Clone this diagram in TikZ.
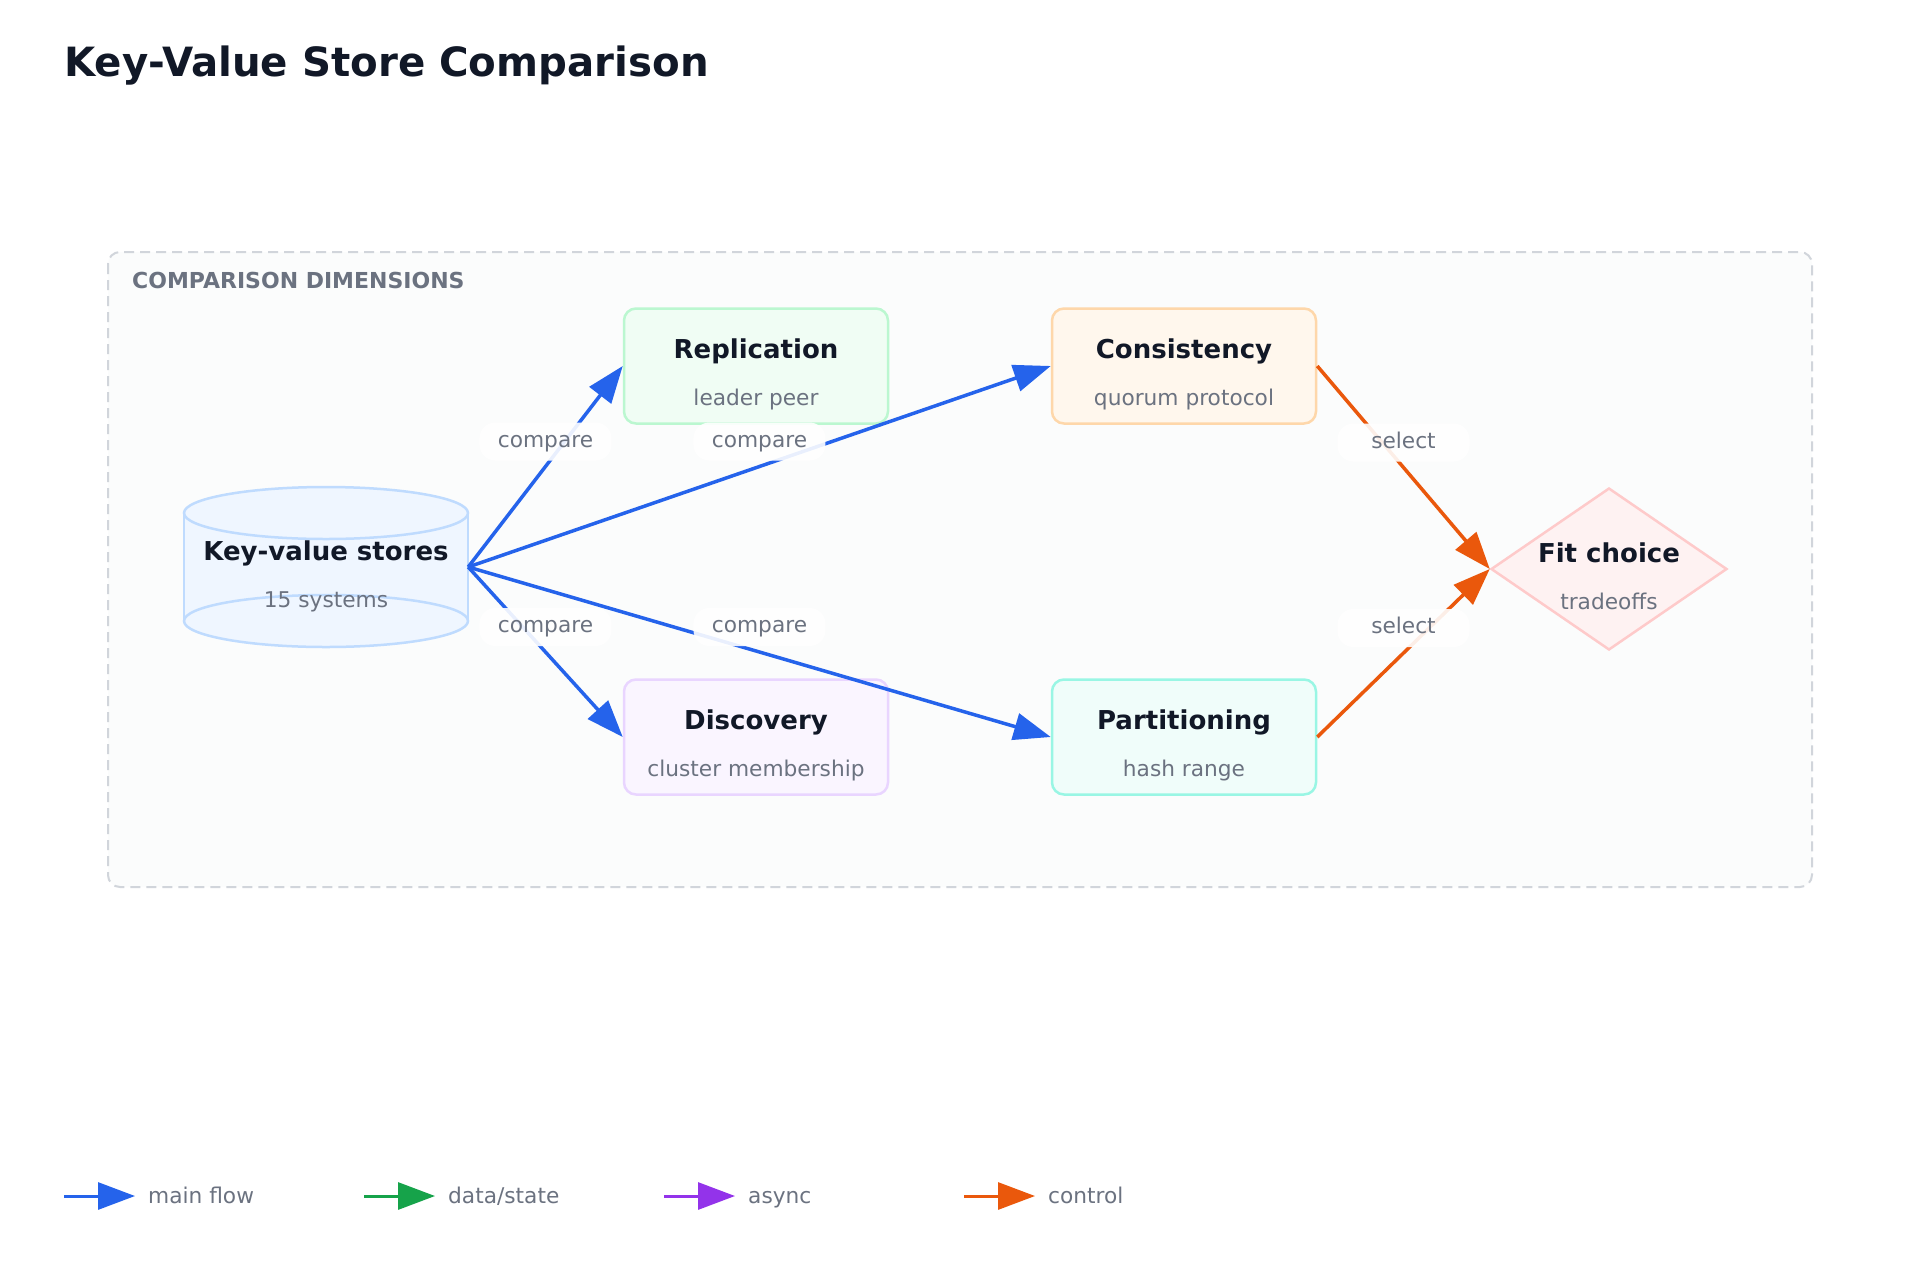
\documentclass[tikz,border=0pt]{standalone}
\usepackage{fontspec}
\setmainfont{DejaVu Sans}
\usepackage{tikz}
\usetikzlibrary{shapes.geometric, arrows.meta, positioning, calc}
\definecolor{ink}{HTML}{111827}
\definecolor{muted}{HTML}{6B7280}
\definecolor{flowblue}{HTML}{2563EB}
\definecolor{stategreen}{HTML}{16A34A}
\definecolor{asyncpurple}{HTML}{9333EA}
\definecolor{ctrlorange}{HTML}{EA580C}
\definecolor{panelfill}{HTML}{FBFCFC}
\definecolor{panelline}{HTML}{D1D5DB}
\definecolor{kvfill}{HTML}{EFF6FF}
\definecolor{kvline}{HTML}{BFDBFE}
\definecolor{replfill}{HTML}{F0FDF4}
\definecolor{replline}{HTML}{BBF7D0}
\definecolor{consfill}{HTML}{FFF7ED}
\definecolor{consline}{HTML}{FED7AA}
\definecolor{discfill}{HTML}{FAF5FF}
\definecolor{discline}{HTML}{E9D5FF}
\definecolor{partfill}{HTML}{F0FDFA}
\definecolor{partline}{HTML}{99F6E4}
\definecolor{choicefill}{HTML}{FEF2F2}
\definecolor{choiceline}{HTML}{FECACA}

\begin{document}
\begin{tikzpicture}[
		x=1pt, y=-1pt,
		node distance=253.5pt and 161.5pt,
		box/.style={rectangle, rounded corners=12pt, line width=2.5pt,
			minimum width=264pt, minimum height=115pt},
		ttl/.style={anchor=base, inner sep=0pt, text=ink,
			font=\fontsize{26}{30}\selectfont\bfseries},
		subtxt/.style={anchor=base, inner sep=0pt, text=muted,
			font=\fontsize{21.7}{26}\selectfont},
		arrow/.style={-{Triangle[length=37pt, width=27pt]}, line width=3.5pt},
		elabel/.style={fill=white, fill opacity=0.9, text opacity=1, rounded corners=16pt,
			minimum width=132pt, minimum height=38pt, text height=15pt, text depth=4pt,
			inner sep=0pt, text=muted, font=\fontsize{21.7}{26}\selectfont}
		]
		
		\fill[white] (0,0) rectangle (1920,1280);
		\useasboundingbox (0,0) rectangle (1920,1280);
		
		% Title and panel
		\node[anchor=base west, inner sep=0pt, text=ink, font=\fontsize{40.3}{48}\selectfont\bfseries]
			(title) at (64,76) {Key-Value Store Comparison};
		\draw[panelline, fill=panelfill, line width=2pt, dash pattern=on 10pt off 6pt,
			rounded corners=12pt] (108,252) rectangle (1812,887);
		\node[anchor=base west, inner sep=0pt, text=muted, font=\fontsize{22}{26}\selectfont\bfseries]
			(dims) at (132,288) {COMPARISON DIMENSIONS};
		
		% Store cylinder
		\fill[kvfill] (184,513) rectangle (468,621);
		\draw[kvline, fill=kvfill, line width=2.5pt] (326,621) ellipse [x radius=142pt, y radius=26pt];
		\draw[kvline, line width=2.5pt] (184,513) -- (184,621) (468,513) -- (468,621);
		\draw[kvline, fill=kvfill, line width=2.5pt] (326,513) ellipse [x radius=142pt, y radius=26pt];
		\node[minimum width=284pt, minimum height=161pt, inner sep=0pt] (kv) at (326,567) {};
		
		% Nodes
		\node[box, draw=replline, fill=replfill] (repl) at (756,366) {};
		\node[box, draw=consline, fill=consfill, right=of repl] (cons) {};
		\node[box, draw=discline, fill=discfill, below=of repl] (disc) {};
		\node[box, draw=partline, fill=partfill, right=of disc] (part) {};
		\node[diamond, aspect=1.457, minimum width=236pt, minimum height=162pt, inner sep=0pt,
			draw=choiceline, fill=choicefill, line width=2.5pt] (choice) at (1609,569) {};
		
		% Arrows
		\draw[arrow, flowblue] (kv.east) -- (repl.west) node[elabel, midway, yshift=25pt] {compare};
		\draw[arrow, flowblue] (kv.east) -- (cons.west) node[elabel, midway, yshift=25pt] {compare};
		\draw[arrow, flowblue] (kv.east) -- (disc.west) node[elabel, midway, yshift=25pt] {compare};
		\draw[arrow, flowblue] (kv.east) -- (part.west) node[elabel, midway, yshift=25pt] {compare};
		\draw[arrow, ctrlorange] (cons.east) -- (choice.west) node[elabel, midway, yshift=25pt] {select};
		\draw[arrow, ctrlorange] (part.east) -- (choice.west) node[elabel, midway, yshift=25pt] {select};
		
		% Texts
		\node[ttl] (kvt) at ([yshift=7pt]kv.center) {Key-value stores};
		\node[subtxt] (kvs) at ([yshift=-40pt]kv.center) {15 systems};
		\node[ttl] (replt) at ([yshift=8pt]repl.center) {Replication};
		\node[subtxt] (repls) at ([yshift=-39pt]repl.center) {leader peer};
		\node[ttl] (const) at ([yshift=8pt]cons.center) {Consistency};
		\node[subtxt] (conss) at ([yshift=-39pt]cons.center) {quorum protocol};
		\node[ttl] (disct) at ([yshift=8pt]disc.center) {Discovery};
		\node[subtxt] (discs) at ([yshift=-39pt]disc.center) {cluster membership};
		\node[ttl] (partt) at ([yshift=8pt]part.center) {Partitioning};
		\node[subtxt] (parts) at ([yshift=-39pt]part.center) {hash range};
		\node[ttl] (choicet) at ([yshift=7pt]choice.center) {Fit choice};
		\node[subtxt] (choices) at ([yshift=-40pt]choice.center) {tradeoffs};
		
		% Legend
		\foreach \col/\txt [count=\i from 0] in {flowblue/{main flow}, stategreen/{data/state},
			asyncpurple/{async}, ctrlorange/{control}} {
			\coordinate (lgs\i) at (64+300*\i,1196);
			\coordinate (lge\i) at (135+300*\i,1196);
			\draw[arrow, line width=3pt, \col] (lgs\i) -- (lge\i);
			\node[subtxt, anchor=base west] (lgt\i) at (148+300*\i,1203) {\txt};
		}
		
	\end{tikzpicture}
\end{document}
